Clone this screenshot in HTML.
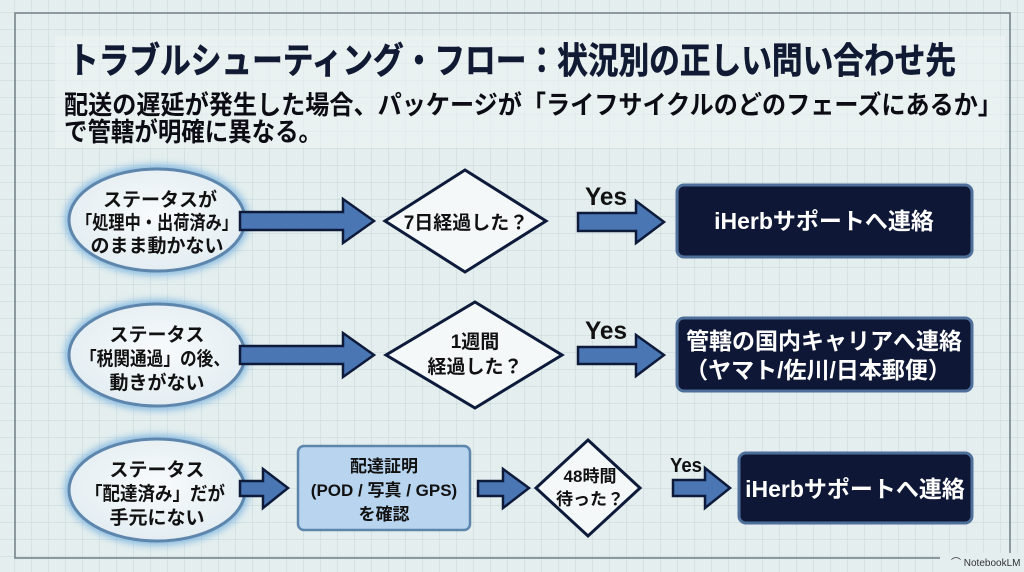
<!DOCTYPE html>
<html><head><meta charset="utf-8"><style>
html,body{margin:0;padding:0;width:1024px;height:572px;overflow:hidden;background:#e4eeee}
svg{display:block}
text{font-family:"Liberation Sans","Noto Sans CJK JP",sans-serif;font-weight:bold}
</style></head><body>
<svg width="1024" height="572" viewBox="0 0 1024 572" xmlns="http://www.w3.org/2000/svg">
<defs>
<pattern id="g" width="17" height="17" patternUnits="userSpaceOnUse" x="15" y="13">
<path d="M17 0V17M0 17H17" fill="none" stroke="#c3d5d9" stroke-width="1"/>
</pattern>
<radialGradient id="eg" cx="50%" cy="45%" r="55%"><stop offset="0" stop-color="#f8fbfc"/><stop offset="1" stop-color="#e3edf2"/></radialGradient>
<filter id="glow" x="-20%" y="-20%" width="140%" height="140%"><feGaussianBlur stdDeviation="4"/></filter>
</defs>
<rect width="1024" height="572" fill="#e4eeee"/>
<rect width="1024" height="572" fill="url(#g)"/>
<rect x="55" y="36" width="950" height="112" fill="#eef4f4" opacity="0.6"/>
<rect x="15" y="13" width="995" height="545" fill="none" stroke="#6f7f86" stroke-width="1.5"/>

<text x="68" y="73" font-size="36" fill="#101a33" stroke="#101a33" stroke-width="0.6" textLength="888" lengthAdjust="spacingAndGlyphs">トラブルシューティング・フロー：状況別の正しい問い合わせ先</text>
<text x="64" y="114" font-size="26" fill="#0c0c14" textLength="938" lengthAdjust="spacingAndGlyphs">配送の遅延が発生した場合、パッケージが「ライフサイクルのどのフェーズにあるか」</text>
<text x="64" y="141" font-size="26" fill="#0c0c14" textLength="258" lengthAdjust="spacingAndGlyphs">で管轄が明確に異なる。</text>

<g>
<ellipse cx="157" cy="220" rx="92" ry="55" fill="#7fb6e0" filter="url(#glow)"/>
<ellipse cx="157" cy="220" rx="88" ry="51" fill="url(#eg)" stroke="#5e86ad" stroke-width="3"/>
<ellipse cx="157" cy="355" rx="92" ry="55" fill="#7fb6e0" filter="url(#glow)"/>
<ellipse cx="157" cy="355" rx="88" ry="51" fill="url(#eg)" stroke="#5e86ad" stroke-width="3"/>
<ellipse cx="157" cy="490" rx="92" ry="55" fill="#7fb6e0" filter="url(#glow)"/>
<ellipse cx="157" cy="490" rx="88" ry="51" fill="url(#eg)" stroke="#5e86ad" stroke-width="3"/>
</g>
<g font-size="19" fill="#111" text-anchor="middle">
<text x="160" y="206">ステータスが</text>
<text x="157" y="229" textLength="162" lengthAdjust="spacingAndGlyphs">「処理中・出荷済み」</text>
<text x="157" y="252">のまま動かない</text>
<text x="157" y="341">ステータス</text>
<text x="155" y="365" textLength="150" lengthAdjust="spacingAndGlyphs">「税関通過」の後、</text>
<text x="157" y="389">動きがない</text>
<text x="157" y="476">ステータス</text>
<text x="155" y="500" textLength="140" lengthAdjust="spacingAndGlyphs">「配達済み」だが</text>
<text x="157" y="524">手元にない</text>
</g>

<g fill="#4a76b4" stroke="#0d1a3a" stroke-width="2.5" stroke-linejoin="miter">
<path d="M240 212H343V199L374 221L343 243V230H240Z"/>
<path d="M240 346H343V333L374 355L343 377V364H240Z"/>
<path d="M240 481H263V469L288 488L263 508V496H240Z"/>
<path d="M478 481H503V469L529 488L503 508V496H478Z"/>
<path d="M578 213H636V201L664 222L636 243V231H578Z"/>
<path d="M578 347H636V335L664 355L636 376V364H578Z"/>
<path d="M673 480H705V468L730 488L705 508V496H673Z"/>
</g>
<g fill="#111">
<text x="585" y="205" font-size="25" style="font-family:'Liberation Sans',sans-serif" textLength="42" lengthAdjust="spacingAndGlyphs">Yes</text>
<text x="585" y="339" font-size="25" style="font-family:'Liberation Sans',sans-serif" textLength="42" lengthAdjust="spacingAndGlyphs">Yes</text>
<text x="670" y="472" font-size="20" style="font-family:'Liberation Sans',sans-serif" textLength="32" lengthAdjust="spacingAndGlyphs">Yes</text>
</g>

<g fill="#f4f8f9" stroke="#0d1a3a" stroke-width="3">
<path d="M465 170L546 221L465 272L385 221Z"/>
<path d="M475 302L562 355L475 408L386 355Z"/>
<path d="M588 440L640 488L588 536L536 488Z"/>
</g>
<g font-size="19" fill="#111" text-anchor="middle">
<text x="466" y="229">7日経過した？</text>
<text x="475" y="348">1週間</text>
<text x="475" y="373">経過した？</text>
<text x="590" y="482" font-size="17">48時間</text>
<text x="590" y="505" font-size="17">待った？</text>
</g>

<rect x="298" y="446" width="172" height="84" rx="6" fill="#b8d4ee" stroke="#5e86ad" stroke-width="2.5"/>
<g font-size="17" fill="#111" text-anchor="middle">
<text x="384" y="472">配達証明</text>
<text x="384" y="496">(POD / 写真 / GPS)</text>
<text x="384" y="520">を確認</text>
</g>

<g fill="#0e1735" stroke="#4e6f9a" stroke-width="3">
<rect x="677" y="185" width="295" height="72" rx="7"/>
<rect x="677" y="318" width="295" height="73" rx="7"/>
<rect x="739" y="453" width="233" height="70" rx="7"/>
</g>
<g font-size="23" fill="#fff" text-anchor="middle">
<text x="824" y="229">iHerbサポートへ連絡</text>
<text x="824" y="349">管轄の国内キャリアへ連絡</text>
<text x="818" y="378">（ヤマト/佐川/日本郵便）</text>
<text x="855" y="497">iHerbサポートへ連絡</text>
</g>

<rect x="940" y="553" width="84" height="19" fill="#e4eeee"/>
<text x="951" y="566" font-size="10" fill="#333" style="font-family:'Liberation Sans',sans-serif;font-weight:normal">⌒ NotebookLM</text>
</svg>
</body></html>
